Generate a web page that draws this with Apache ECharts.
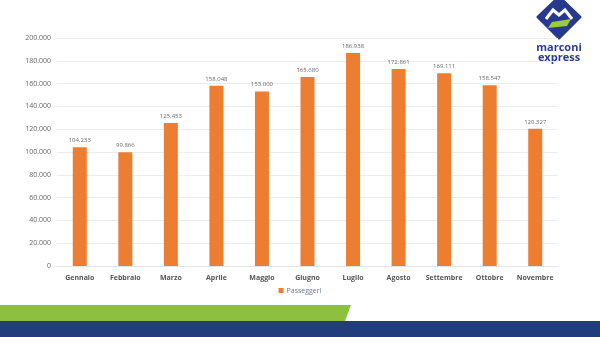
<!DOCTYPE html>
<html><head><meta charset="utf-8">
<script src="https://cdn.jsdelivr.net/npm/echarts@6/dist/echarts.min.js"></script>
<style>html,body{margin:0;padding:0;background:#fff}#c{width:600px;height:337px}</style>
</head><body><div id="c"></div>
<script>
const categories = ['Gennaio','Febbraio','Marzo','Aprile','Maggio','Giugno','Luglio','Agosto','Settembre','Ottobre','Novembre'];
const passeggeri = [104233, 99866, 125453, 158048, 153000, 165680, 186938, 172861, 169111, 158547, 120327];
const seriesName = 'Passeggeri';

function fmt(v){ return v.toString().replace(/\B(?=(\d{3})+(?!\d))/g,'.'); }

const chart = echarts.init(document.getElementById('c'));
chart.setOption({
  animation:false,
  textStyle:{fontFamily:'Open Sans'},
  grid:{left:57,right:42,top:38,bottom:71,containLabel:false},
  legend:{data:[seriesName],bottom:38,left:'center',itemWidth:5,itemHeight:5,itemGap:4,
    icon:'rect',textStyle:{fontSize:7,color:'#6b7a90',padding:[0,0,0,-2]}},
  xAxis:{type:'category',data:categories,
    axisLine:{show:true,lineStyle:{color:'#e3e3e3'}},axisTick:{show:false},
    axisLabel:{interval:0,fontSize:7,fontWeight:'bold',color:'#555',margin:8}},
  yAxis:{type:'value',min:0,max:200000,interval:20000,
    axisLine:{show:false},axisTick:{show:false},
    splitLine:{lineStyle:{color:'#ececec'}},
    axisLabel:{fontSize:7,color:'#666',margin:6,formatter:v=>fmt(v)}},
  series:[{name:seriesName,type:'bar',data:passeggeri,barWidth:14,
    itemStyle:{color:'#ed7d31'},
    label:{show:true,position:'top',fontSize:6,color:'#6a6a6a',distance:4,formatter:p=>fmt(p.value)}}],
  graphic:[
    {type:'polygon',shape:{points:[[0,305],[351,305],[345,321],[0,321]]},style:{fill:'#8dc040'}},
    {type:'rect',shape:{x:0,y:321,width:600,height:16},style:{fill:'#223d7b'}},
    {type:'polygon',shape:{points:[[559,-3],[580,17],[559,38],[538,17]]},style:{fill:'#253a8e',stroke:'#253a8e',lineWidth:3,lineJoin:'round'}},
    {type:'polyline',shape:{points:[[546,19],[553,10],[559,15],[565,10],[572,19]]},style:{stroke:'#fff',lineWidth:3,fill:null}},
    {type:'polygon',shape:{points:[[552,22],[571,19],[567,26],[548,28]]},style:{fill:'#9ccc3c'}},
    {type:'text',style:{text:'marconi\nexpress',x:559,y:43,align:'center',verticalAlign:'top',lineHeight:10,font:'bold 11px "Open Sans"',fill:'#2b3d8f'}}
  ]
});
</script></body></html>
